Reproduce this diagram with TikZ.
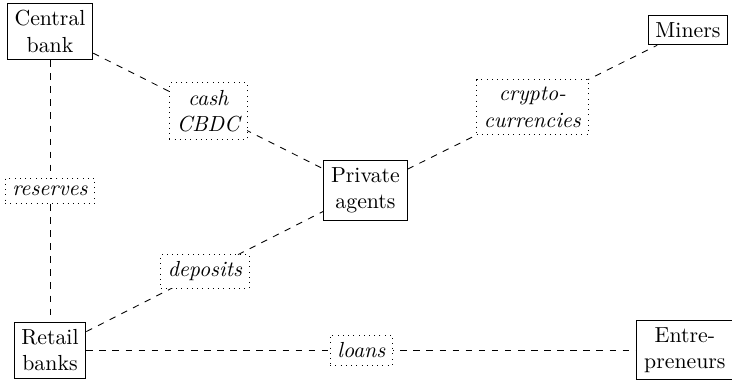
\documentclass[tikz,border=0pt]{standalone}
\usetikzlibrary{positioning}
\tikzset{
  agent/.style={draw,align=center},
  flow/.style={dashed},
  asset/.style={draw,dotted,fill=white,align=center,font=\itshape,pos=.5}
}
\begin{document}
\begin{tikzpicture}
\useasboundingbox (0,0) rectangle (11.80,6.174);
\node[agent] (cb) at (0.806,5.666) {Central\\bank};
\node[agent] (pa) at (5.892,3.111) {Private\\agents};
\node[agent] (mi) at (11.09,5.690) {Miners};
\node[agent] (rb) at (0.806,0.532) {Retail\\banks};
\node[agent] (en) at (11.04,0.532) {Entre-\\preneurs};
\draw[flow] (cb) -- (pa) node[asset] {cash\\CBDC};
\draw[flow] (pa) -- (mi) node[asset] {crypto-\\currencies};
\draw[flow] (cb) -- (rb) node[asset] {reserves};
\draw[flow] (rb) -- (pa) node[asset] {deposits};
\draw[flow] (rb) -- (en) node[asset] {loans};
\end{tikzpicture}
\end{document}
